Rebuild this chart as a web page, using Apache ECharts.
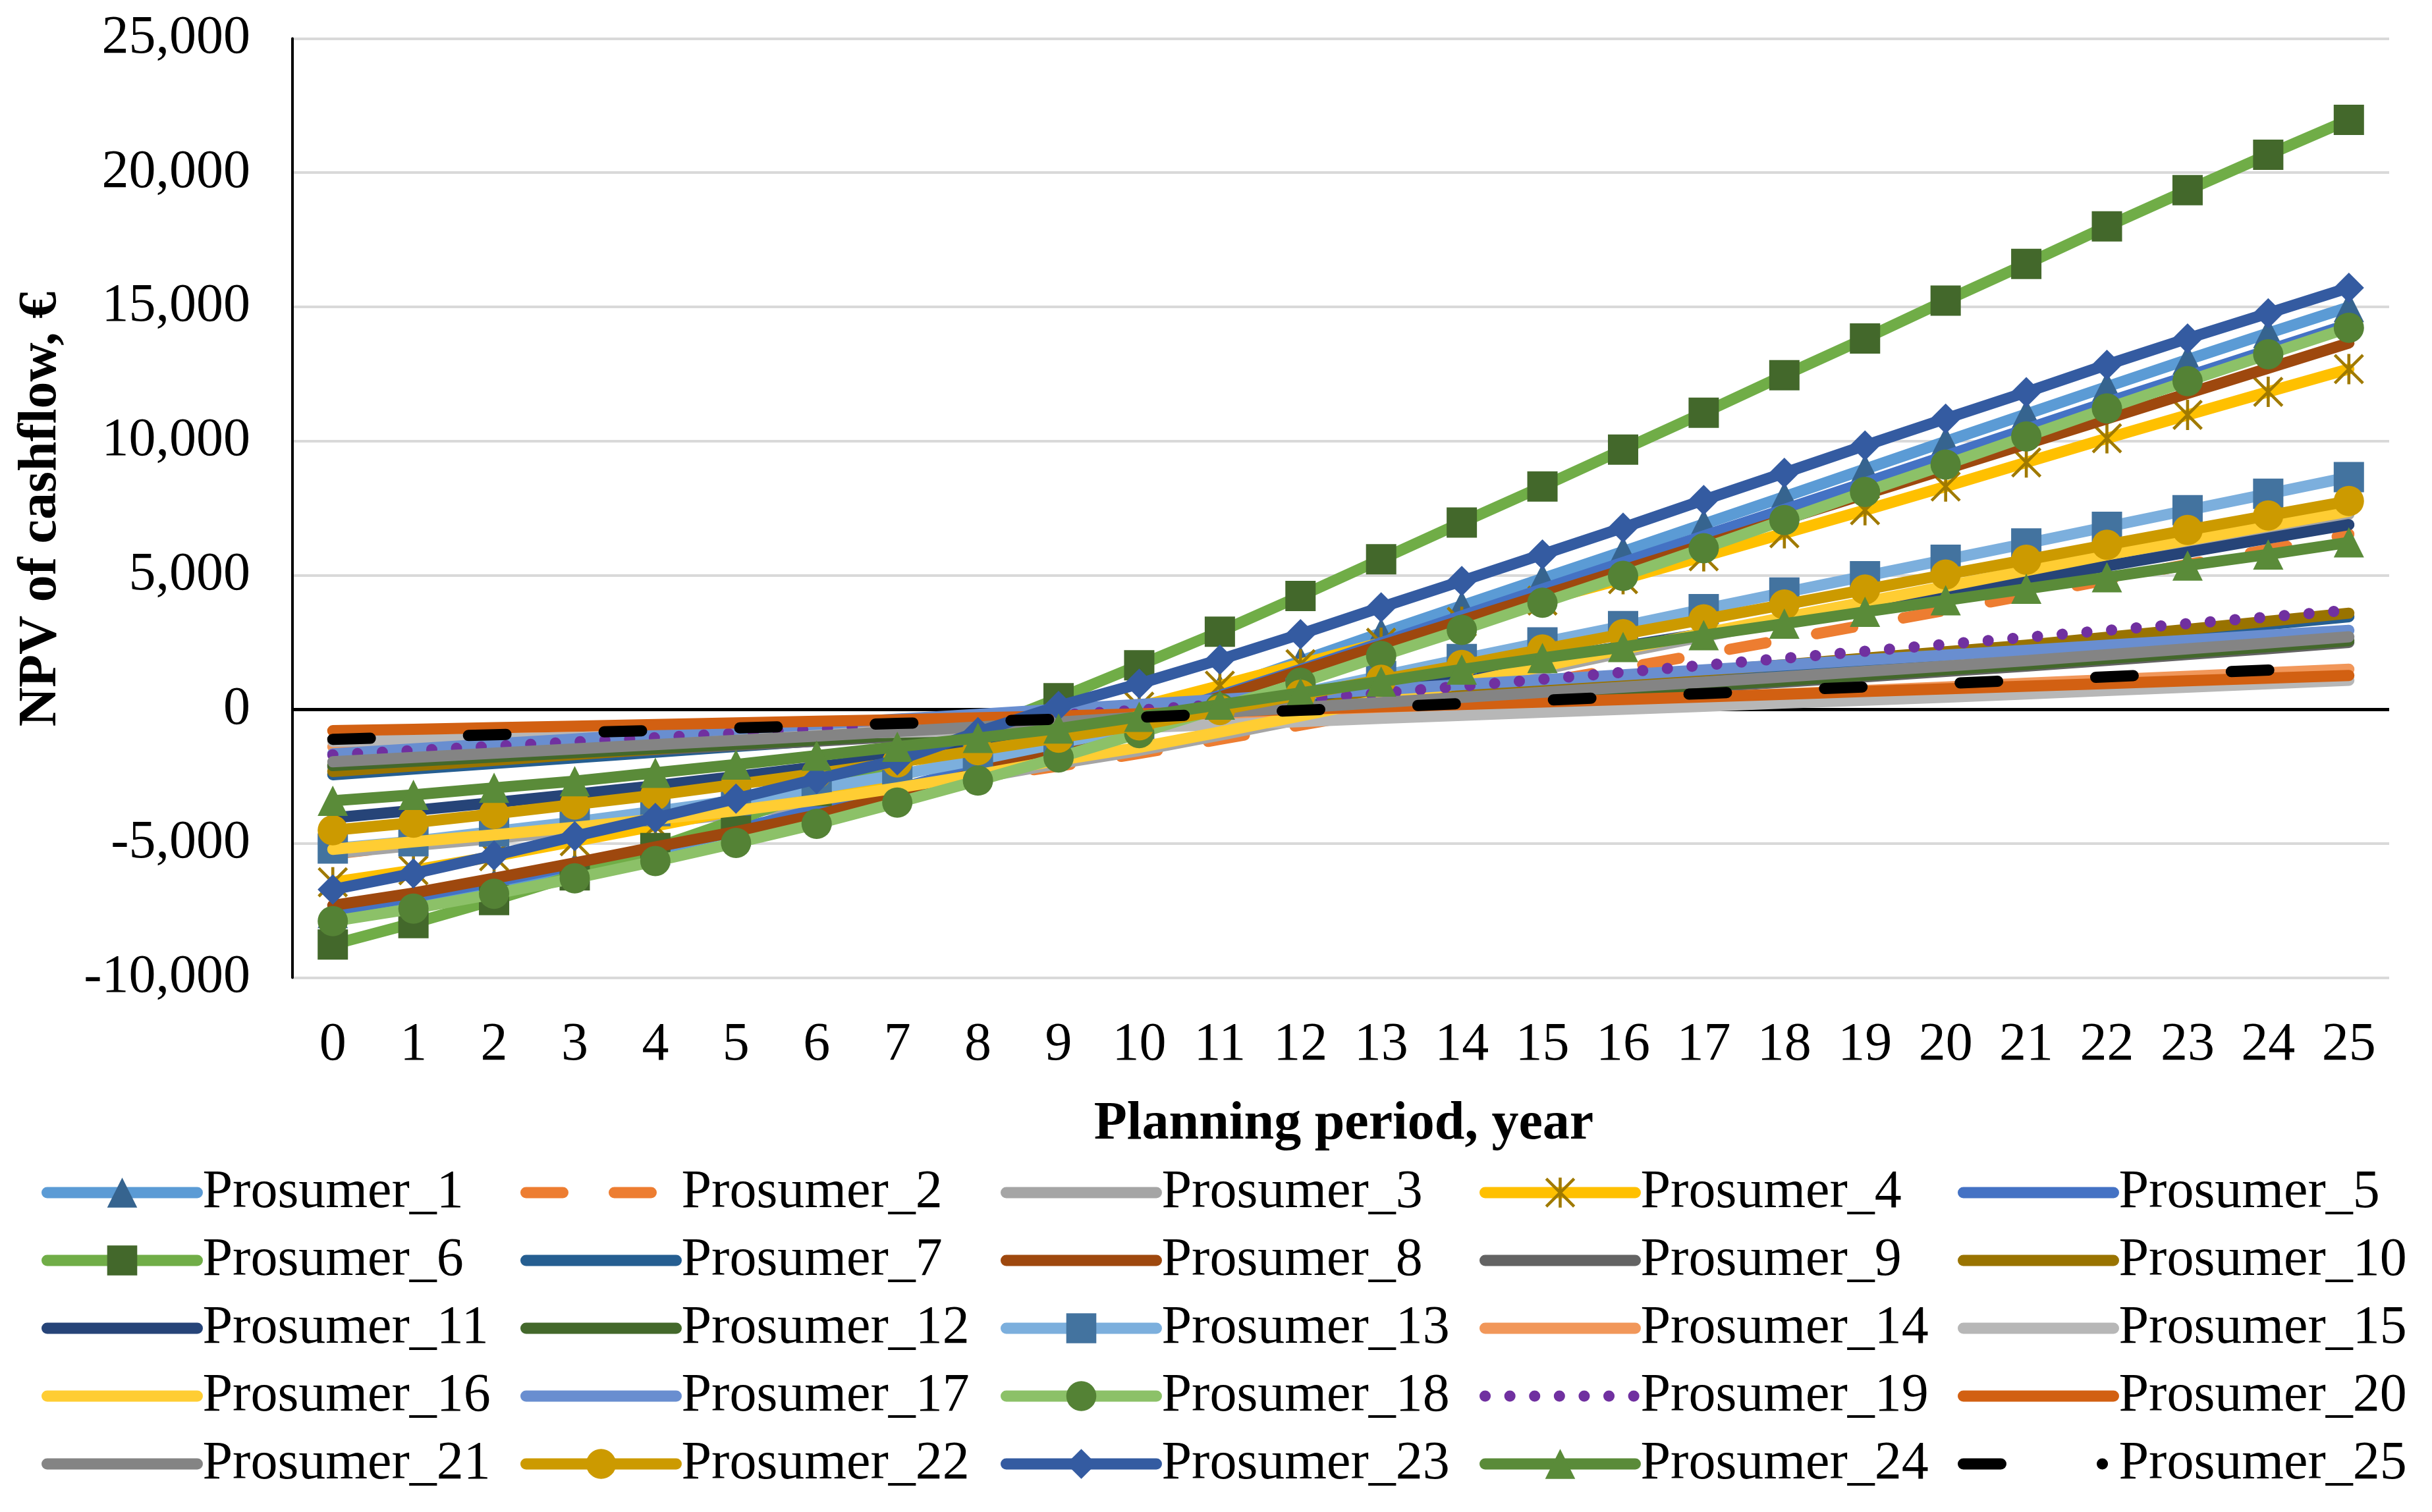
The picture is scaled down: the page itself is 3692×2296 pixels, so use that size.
<!DOCTYPE html>
<html><head><meta charset="utf-8">
<script src="https://cdn.jsdelivr.net/npm/echarts@6/dist/echarts.min.js"></script>
<style>html,body{margin:0;padding:0;background:#fff}#c{width:3692px;height:2296px}</style>
</head><body><div id="c"></div>
<script>
const years = ['0','1','2','3','4','5','6','7','8','9','10','11','12','13','14','15','16','17','18','19','20','21','22','23','24','25'];
const yMin = -10000, yMax = 25000, yStep = 5000;

const p1  = [-7600,-7080,-6510,-5900,-5250,-4550,-3800,-3000,-2150,-1250,-300,750,1800,2840,3860,4870,5880,6900,7920,8950,9980,11000,12020,13030,14020,14990];
const p2  = [-5400,-5050,-4700,-4350,-4000,-3650,-3300,-2940,-2560,-2120,-1650,-1120,-590,-60,470,1000,1530,2060,2600,3140,3690,4250,4820,5400,5950,6520];
const p3  = [-5370,-5080,-4810,-4530,-4220,-3900,-3500,-3050,-2560,-2020,-1540,-970,-370,240,850,1480,2120,2710,3300,3880,4460,5050,5640,6190,6730,7270];
const p4  = [-6450,-6000,-5480,-4920,-4350,-3760,-3150,-2500,-1700,-800,100,880,1680,2480,3260,4050,4850,5700,6560,7420,8300,9200,10100,10970,11830,12680];
const p5  = [-7510,-6990,-6420,-5810,-5160,-4470,-3740,-2970,-2160,-1310,-420,510,1480,2480,3480,4480,5470,6460,7450,8440,9440,10440,11440,12410,13380,14350];
const p6  = [-8770,-7970,-7110,-6190,-5170,-4130,-3050,-1940,-790,410,1640,2890,4220,5590,6960,8300,9680,11050,12450,13820,15230,16600,18000,19350,20670,21970];
const p7  = [-2440,-2230,-2020,-1810,-1600,-1390,-1180,-960,-740,-510,-280,-50,180,410,640,880,1080,1310,1540,1780,2020,2270,2560,2860,3160,3450];
const p8  = [-7310,-6850,-6300,-5730,-5130,-4560,-3950,-3200,-2350,-1450,-530,450,1430,2370,3310,4250,5190,6130,7070,8010,8950,9890,10830,11770,12710,13650];
const p9  = [-2150,-1990,-1830,-1670,-1510,-1350,-1190,-1020,-850,-670,-490,-310,-130,60,250,440,630,820,1010,1210,1410,1610,1820,2040,2260,2490];
const p10 = [-2320,-2110,-1900,-1690,-1480,-1270,-1060,-840,-620,-390,-160,70,300,530,760,980,1200,1430,1660,1900,2140,2390,2680,2980,3280,3580];
const p11 = [-4050,-3770,-3480,-3170,-2850,-2510,-2150,-1770,-1370,-950,-510,-50,420,900,1380,1860,2340,2820,3300,3780,4260,4800,5340,5850,6370,6880];
const p12 = [-2100,-1940,-1780,-1620,-1460,-1300,-1140,-970,-800,-620,-440,-260,-80,110,300,490,680,870,1070,1270,1470,1670,1890,2110,2330,2560];
const p13 = [-5190,-4920,-4560,-4200,-3800,-3400,-2950,-2450,-1880,-1270,-660,-40,600,1240,1870,2490,3100,3730,4350,4960,5570,6180,6800,7420,8030,8650];
const p14 = [-1400,-1310,-1220,-1130,-1040,-950,-860,-770,-680,-590,-490,-360,-230,-90,40,170,300,440,570,700,830,970,1100,1230,1360,1490];
const p15 = [-1200,-1150,-1100,-1050,-1000,-950,-900,-850,-800,-750,-680,-570,-460,-340,-230,-110,0,110,230,340,450,570,700,820,950,1080];
const p16 = [-5220,-4940,-4680,-4400,-4100,-3780,-3380,-2930,-2440,-1900,-1420,-850,-250,360,970,1600,2240,2830,3420,4000,4580,5170,5760,6300,6840,7380];
const p17 = [-1660,-1480,-1290,-1110,-920,-740,-560,-370,-190,0,180,360,550,730,920,1100,1280,1470,1650,1840,2020,2200,2390,2570,2760,2940];
const p18 = [-7900,-7430,-6880,-6300,-5660,-4980,-4270,-3480,-2660,-1800,-890,50,990,1990,2960,3970,4970,6000,7050,8100,9120,10170,11210,12230,13230,14220];
const p19 = [-1700,-1540,-1380,-1220,-1060,-900,-740,-570,-400,-220,-30,170,370,600,860,1120,1380,1640,1900,2160,2420,2680,2940,3190,3440,3690];
const p20 = [-800,-750,-690,-630,-570,-510,-450,-390,-320,-250,-170,-90,0,90,180,270,360,460,560,660,760,860,960,1060,1160,1260];
const p21 = [-1960,-1800,-1640,-1480,-1320,-1160,-1000,-830,-660,-480,-300,-120,60,250,440,630,820,1010,1210,1410,1610,1810,2030,2250,2470,2700];
const p22 = [-4510,-4230,-3900,-3550,-3200,-2800,-2400,-1980,-1530,-1060,-600,-30,540,1100,1650,2230,2800,3350,3900,4460,5020,5570,6130,6680,7220,7760];
const p23 = [-6720,-6120,-5450,-4730,-4050,-3330,-2600,-1900,-850,120,950,1850,2800,3800,4780,5770,6770,7800,8810,9830,10830,11820,12840,13820,14760,15710];
const p24 = [-3410,-3190,-2930,-2680,-2370,-2060,-1730,-1400,-1070,-720,-280,170,610,1030,1480,1910,2320,2760,3190,3630,4060,4490,4920,5360,5770,6220];
const p25 = [-1120,-1040,-950,-870,-790,-700,-620,-530,-450,-370,-300,-170,-40,85,210,335,460,585,710,835,960,1085,1210,1335,1460,1570];

const seriesData = [p1,p2,p3,p4,p5,p6,p7,p8,p9,p10,p11,p12,p13,p14,p15,p16,p17,p18,p19,p20,p21,p22,p23,p24,p25];

const ASTER = 'path://M45,0L55,0L55,100L45,100Z M0,7L7,0L100,93L93,100Z M93,0L100,7L7,100L0,93Z';
// visual style per series (line colour, marker colour, marker, dash)
const looks = [
  {line:'#5B9BD5', mk:'#36648F', sym:'triangle'},
  {line:'#ED7D31', dash:[56,78]},
  {line:'#A5A5A5'},
  {line:'#FFC000', mk:'#A07A00', sym:ASTER},
  {line:'#4472C4'},
  {line:'#70AD47', mk:'#43682B', sym:'rect'},
  {line:'#255E91'},
  {line:'#9E480E'},
  {line:'#636363'},
  {line:'#997300'},
  {line:'#264478'},
  {line:'#43682B'},
  {line:'#7CAFDD', mk:'#43739F', sym:'rect'},
  {line:'#F1975A'},
  {line:'#B7B7B7'},
  {line:'#FFCD33'},
  {line:'#698ED0'},
  {line:'#8CC168', mk:'#548235', sym:'circle'},
  {line:'#7030A0', dash:[0.1,37.5]},
  {line:'#D26012'},
  {line:'#848484'},
  {line:'#CC9A00', mk:'#CC9A00', sym:'circle'},
  {line:'#345BA1', mk:'#345BA1', sym:'diamond'},
  {line:'#5A8B39', mk:'#5A8B39', sym:'triangle'},
  {line:'#000000', dash:[57,149], legendDash:[57,154,0.1,300]}
];
const names = seriesData.map((d,i)=>'Prosumer_' + (i+1));

const FONT = 'Liberation Serif';
const LW = 17;

const series = seriesData.map((d,i)=>{
  const L = looks[i];
  const s = {
    name: names[i], type:'line', data: d, z: 2 + i,
    symbol: L.sym || 'none', symbolSize: 46, showSymbol: !!L.sym,
    lineStyle: {color: L.line, width: LW, type: L.dash || 'solid', cap:'round', join:'round'},
    itemStyle: {color: L.mk || L.line, borderWidth: 0},
    emphasis: {disabled: true}, silent: true, animation: false
  };
  if (i === 0) {
    s.markLine = {silent:true, symbol:['none','none'], label:{show:false},
      lineStyle:{color:'#000', width:5, type:'solid'}, data:[{yAxis:0}], animation:false};
  }
  return s;
});

const colX = [63, 790, 1519, 2246, 2972];
const legends = colX.map((x,k)=>({
  orient:'vertical', left:x, top:1770, padding:0,
  itemWidth:228, itemHeight:57, itemGap:21, selectedMode:false,
  lineStyle:{width:LW},
  textStyle:{fontFamily:FONT, fontSize:82, lineHeight:82, color:'#000', padding:[0,0,0,3]},
  data:[0,1,2,3,4].map(r=>{
    const i = k + r*5, L = looks[i];
    return {name:names[i],
      lineStyle:{color:L.line, width:LW, type:L.legendDash || L.dash || 'solid', cap:'round'},
      itemStyle:{color:L.mk || L.line, opacity: L.sym ? 1 : 0, borderWidth:0}};
  })
}));

function fmt(v){
  const s = String(Math.abs(v)).replace(/\B(?=(\d{3})+(?!\d))/g, ',');
  return (v < 0 ? '-' : '') + s;
}

const chart = echarts.init(document.getElementById('c'), null, {renderer:'canvas'});
chart.setOption({
  backgroundColor:'#fff',
  animation:false,
  grid:{left:444, right:65, top:58.5, bottom:811.6, containLabel:false, outerBoundsMode:'none'},
  xAxis:{type:'category', data:years, boundaryGap:true,
    axisLine:{show:false}, axisTick:{show:false}, splitLine:{show:false},
    axisLabel:{interval:0, margin:62, color:'#000', fontFamily:FONT, fontSize:82}},
  yAxis:{type:'value', min:yMin, max:yMax, interval:yStep,
    axisLine:{show:true, lineStyle:{color:'#000', width:4}}, axisTick:{show:false},
    splitLine:{show:true, lineStyle:{color:'#D9D9D9', width:4}},
    axisLabel:{margin:64, color:'#000', fontFamily:FONT, fontSize:82, formatter:fmt}},
  legend: legends,
  graphic:[
    {type:'text', x:2040, y:1708, silent:true,
      style:{text:'Planning period, year', font:'bold 82px "Liberation Serif"', fill:'#000',
        textAlign:'center', textVerticalAlign:'middle', align:'center', verticalAlign:'middle'}},
    {type:'text', x:63, y:773, rotation:Math.PI/2, silent:true,
      style:{text:'NPV of cashflow, €', font:'bold 82px "Liberation Serif"', fill:'#000',
        textAlign:'center', textVerticalAlign:'middle', align:'center', verticalAlign:'middle'}}
  ],
  series: series
});
</script>
</body></html>
